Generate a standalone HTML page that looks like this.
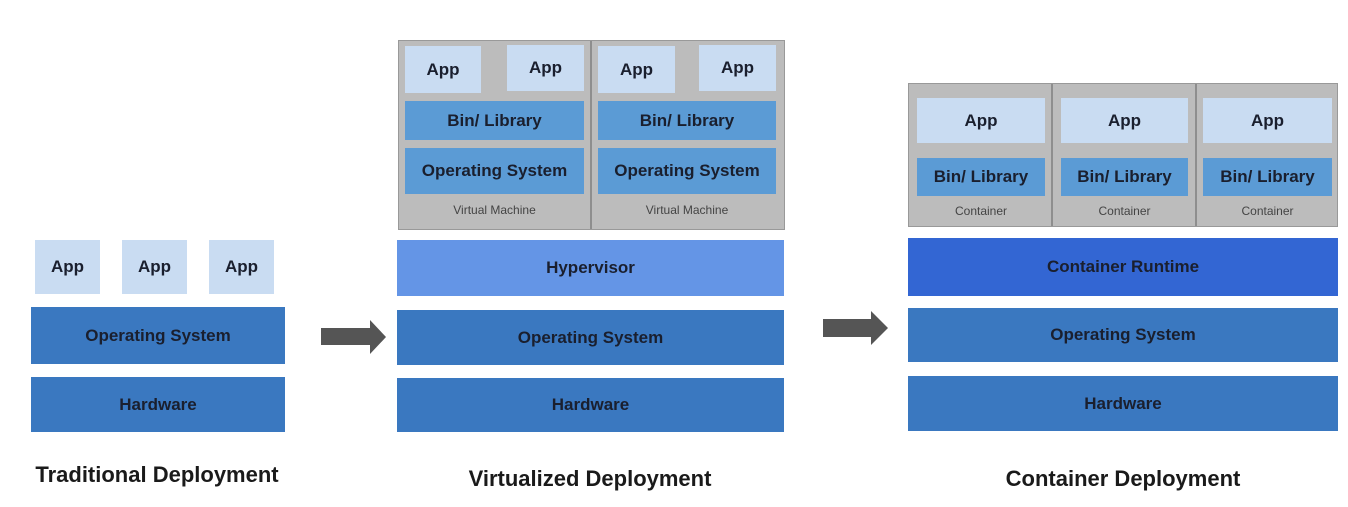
<!DOCTYPE html>
<html><head><meta charset="utf-8"><style>
body{margin:0;width:1348px;height:507px;background:#fff;position:relative;overflow:hidden;font-family:"Liberation Sans",sans-serif;}
.b{position:absolute;display:flex;align-items:center;justify-content:center;font-weight:bold;color:#1a1f2e;font-size:17px;box-sizing:border-box;}
.app{background:#c9dcf2;}
.lib{background:#5b9bd5;}
.os{background:#3a78c0;}
.hyp{background:#6495e6;}
.rt{background:#3366d3;}
.g{position:absolute;background:#bcbcbc;border:1.5px solid #999;box-sizing:border-box;}
.lbl{position:absolute;font-size:12px;color:#444;text-align:center;}
.t{position:absolute;font-size:22px;font-weight:bold;color:#1a1a1a;text-align:center;}
.sep{position:absolute;width:2px;background:#8e8e8e;}
</style></head><body>
<!-- Traditional -->
<div class="b app" style="left:35px;top:240px;width:65px;height:54px">App</div>
<div class="b app" style="left:122px;top:240px;width:65px;height:54px">App</div>
<div class="b app" style="left:209px;top:240px;width:65px;height:54px">App</div>
<div class="b os" style="left:31px;top:307px;width:254px;height:57px">Operating System</div>
<div class="b os" style="left:31px;top:377px;width:254px;height:55px">Hardware</div>
<div class="t" style="left:0;width:314px;top:462px">Traditional Deployment</div>

<svg style="position:absolute;left:0;top:0" width="1348" height="507">
<polygon points="321,328 370,328 370,320 386,337 370,354 370,345 321,345" fill="#555"/>
<polygon points="823,319 871,319 871,311 888,328 871,345 871,337 823,337" fill="#555"/>
</svg>

<!-- Virtualized -->
<div class="g" style="left:398px;top:40px;width:387px;height:190px"></div>
<div class="sep" style="left:590px;top:41px;height:188px"></div>
<div class="b app" style="left:405px;top:46px;width:76px;height:47px">App</div>
<div class="b app" style="left:507px;top:45px;width:77px;height:46px">App</div>
<div class="b lib" style="left:405px;top:101px;width:179px;height:39px">Bin/ Library</div>
<div class="b lib" style="left:405px;top:148px;width:179px;height:46px">Operating System</div>
<div class="lbl" style="left:405px;width:179px;top:203px">Virtual Machine</div>
<div class="b app" style="left:598px;top:46px;width:77px;height:47px">App</div>
<div class="b app" style="left:699px;top:45px;width:77px;height:46px">App</div>
<div class="b lib" style="left:598px;top:101px;width:178px;height:39px">Bin/ Library</div>
<div class="b lib" style="left:598px;top:148px;width:178px;height:46px">Operating System</div>
<div class="lbl" style="left:598px;width:178px;top:203px">Virtual Machine</div>
<div class="b hyp" style="left:397px;top:240px;width:387px;height:56px">Hypervisor</div>
<div class="b os" style="left:397px;top:310px;width:387px;height:55px">Operating System</div>
<div class="b os" style="left:397px;top:378px;width:387px;height:54px">Hardware</div>
<div class="t" style="left:440px;width:300px;top:466px">Virtualized Deployment</div>

<!-- Container -->
<div class="g" style="left:908px;top:83px;width:430px;height:144px"></div>
<div class="sep" style="left:1051px;top:84px;height:142px"></div>
<div class="sep" style="left:1195px;top:84px;height:142px"></div>
<div class="b app" style="left:917px;top:98px;width:128px;height:45px">App</div>
<div class="b lib" style="left:917px;top:158px;width:128px;height:38px">Bin/ Library</div>
<div class="lbl" style="left:917px;width:128px;top:204px">Container</div>
<div class="b app" style="left:1061px;top:98px;width:127px;height:45px">App</div>
<div class="b lib" style="left:1061px;top:158px;width:127px;height:38px">Bin/ Library</div>
<div class="lbl" style="left:1061px;width:127px;top:204px">Container</div>
<div class="b app" style="left:1203px;top:98px;width:129px;height:45px">App</div>
<div class="b lib" style="left:1203px;top:158px;width:129px;height:38px">Bin/ Library</div>
<div class="lbl" style="left:1203px;width:129px;top:204px">Container</div>
<div class="b rt" style="left:908px;top:238px;width:430px;height:58px">Container Runtime</div>
<div class="b os" style="left:908px;top:308px;width:430px;height:54px">Operating System</div>
<div class="b os" style="left:908px;top:376px;width:430px;height:55px">Hardware</div>
<div class="t" style="left:973px;width:300px;top:466px">Container Deployment</div>
</body></html>
